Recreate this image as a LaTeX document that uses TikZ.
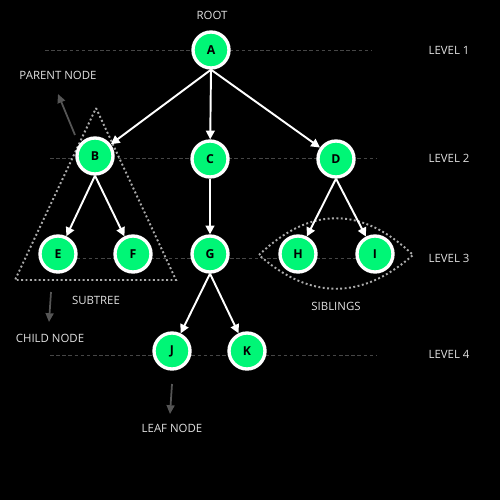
\documentclass[tikz,border=0pt]{standalone}
\usepackage{fontspec}
\setmainfont{Open Sans}
\usetikzlibrary{arrows.meta}
\definecolor{treegreen}{RGB}{0,246,118}
\definecolor{hintgray}{RGB}{85,85,85}
\definecolor{linegray}{RGB}{70,70,70}
\definecolor{dotgray}{RGB}{170,170,170}
\definecolor{labelgray}{RGB}{225,225,225}

\begin{document}
\begin{tikzpicture}[x=0.02cm,y=-0.02cm,
  tnode/.style={circle,draw=white,line width=1.9pt,fill=treegreen,minimum size=0.72cm,inner sep=0pt,font=\bfseries\fontsize{7}{8}\selectfont},
  edge/.style={white,line width=1.1pt,-{Triangle[length=5pt,width=5pt]}},
  hint/.style={hintgray,line width=1pt,-{Triangle[length=5pt,width=4.5pt]}},
  lvl/.style={linegray,line width=0.5pt,dash pattern=on 2pt off 1.5pt},
  lbl/.style={text=labelgray,font=\fontsize{6.5}{8}\selectfont},
  group/.style={dotgray,line width=1.1pt,dash pattern=on 1.1pt off 1.4pt}]
\fill[black] (0,0) rectangle (500,500);
\useasboundingbox (0,0) rectangle (500,500);
\draw[lvl] (45,50) -- (372,50);
\draw[lvl] (50,158) -- (376,158);
\draw[lvl] (58,258) -- (375,258);
\draw[lvl] (50,355) -- (376,355);
\draw[group] (96,108) -- (176,280) -- (15,280) -- cycle;
\draw[group] (259,255) .. controls (310,206) and (362,206) .. (413,255)
  .. controls (362,300) and (310,300) .. (259,255);
\node[tnode] (A) at (211,50) {A};
\node[tnode] (B) at (95,156) {B};
\node[tnode] (C) at (210,159) {C};
\node[tnode] (D) at (336,159) {D};
\node[tnode] (E) at (58,254) {E};
\node[tnode] (F) at (133,254) {F};
\node[tnode] (G) at (210,254) {G};
\node[tnode] (H) at (298,254) {H};
\node[tnode] (I) at (375,254) {I};
\node[tnode] (J) at (172,351) {J};
\node[tnode] (K) at (247,351) {K};
\draw[edge] (A.south) -- (B);
\draw[edge] (A.south) -- (C);
\draw[edge] (A.south) -- (D);
\draw[edge] (B.south) -- (E);
\draw[edge] (B.south) -- (F);
\draw[edge] (C) -- (G);
\draw[edge] (D.south) -- (H);
\draw[edge] (D.south) -- (I);
\draw[edge] (G.south) -- (J);
\draw[edge] (G.south) -- (K);
\node[lbl] (root) at (212,15) {ROOT};
\node[lbl] (parent) at (58,75) {PARENT NODE};
\node[lbl] (subtree) at (96,300) {SUBTREE};
\node[lbl] (child) at (50,338) {CHILD NODE};
\node[lbl] (siblings) at (336,306) {SIBLINGS};
\node[lbl] (leaf) at (172,428) {LEAF NODE};
\node[lbl] (l1) at (449,50) {LEVEL 1};
\node[lbl] (l2) at (449,158) {LEVEL 2};
\node[lbl] (l3) at (449,258) {LEVEL 3};
\node[lbl] (l4) at (449,354) {LEVEL 4};
\coordinate (p0) at (75,135);
\coordinate (p1) at (58,94);
\coordinate (c0) at (51,292);
\coordinate (c1) at (49,322);
\coordinate (f0) at (172,384);
\coordinate (f1) at (170,414);
\draw[hint] (p0) -- (p1);
\draw[hint] (c0) -- (c1);
\draw[hint] (f0) -- (f1);
\end{tikzpicture}
\end{document}
